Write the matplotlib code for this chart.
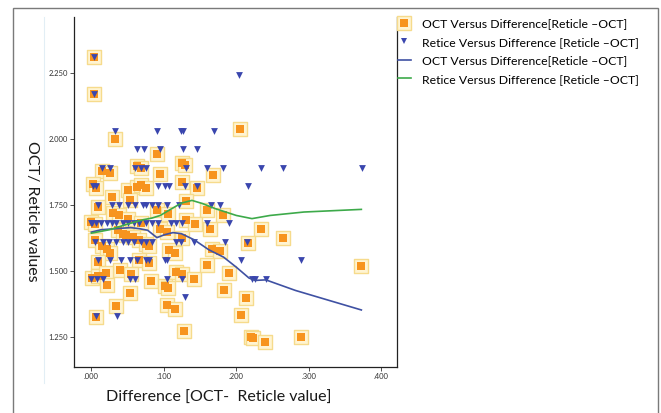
import matplotlib
matplotlib.use("Agg")
import matplotlib.pyplot as plt
from matplotlib.lines import Line2D
from matplotlib.patches import Rectangle
import numpy as np

plt.rcParams['font.family'] = ['Lato', 'DejaVu Sans']

# OCT values (orange squares) vs difference
oct_x = [0.003, 0.003, 0.205, 0.033, 0.091, 0.125, 0.129, 0.015, 0.025, 0.063,
         0.069, 0.095, 0.168, 0.002, 0.006, 0.125, 0.146, 0.051, 0.063, 0.068,
         0.076, 0.028, 0.053, 0.009, 0.130, 0.090, 0.030, 0.038, 0.106, 0.160,
         0.181, 0.000, 0.005, 0.051, 0.069, 0.037, 0.043, 0.048, 0.057, 0.066,
         0.075, 0.080, 0.094, 0.104, 0.131, 0.143, 0.163, 0.234, 0.265, 0.216,
         0.125, 0.005, 0.015, 0.022, 0.026, 0.107, 0.115, 0.167, 0.177, 0.009,
         0.066, 0.079, 0.040, 0.054, 0.117, 0.125, 0.141, 0.190, 0.159, 0.372,
         0.001, 0.009, 0.020, 0.022, 0.082, 0.102, 0.106, 0.053, 0.183, 0.213,
         0.034, 0.104, 0.115, 0.006, 0.207, 0.128, 0.220, 0.223, 0.240, 0.289]
oct_y = [2.308, 2.168, 2.035, 1.997, 1.941, 1.906, 1.901, 1.877, 1.868, 1.897,
         1.887, 1.865, 1.861, 1.827, 1.813, 1.836, 1.813, 1.804, 1.817, 1.823,
         1.813, 1.779, 1.766, 1.741, 1.763, 1.731, 1.720, 1.712, 1.716, 1.731,
         1.710, 1.684, 1.678, 1.697, 1.680, 1.653, 1.640, 1.634, 1.627, 1.615,
         1.602, 1.592, 1.658, 1.646, 1.691, 1.678, 1.658, 1.658, 1.625, 1.604,
         1.625, 1.617, 1.592, 1.583, 1.568, 1.577, 1.566, 1.583, 1.574, 1.532,
         1.541, 1.528, 1.503, 1.488, 1.494, 1.488, 1.469, 1.490, 1.522, 1.517,
         1.473, 1.478, 1.490, 1.446, 1.459, 1.441, 1.435, 1.416, 1.428, 1.397,
         1.365, 1.368, 1.355, 1.323, 1.333, 1.270, 1.247, 1.245, 1.230, 1.250]

# Reticle values (blue triangles), grouped by reticle level
ret_levels = {
    2.31: [0.003],
    2.24: [0.204],
    2.17: [0.003],
    2.03: [0.032, 0.091, 0.123, 0.127, 0.169],
    1.96: [0.063, 0.073, 0.094, 0.126, 0.146],
    1.89: [0.015, 0.025, 0.060, 0.069, 0.076, 0.130, 0.160, 0.181, 0.234, 0.265, 0.373],
    1.82: [0.002, 0.006, 0.092, 0.101, 0.107, 0.129, 0.146, 0.216],
    1.75: [0.009, 0.028, 0.038, 0.051, 0.060, 0.071, 0.076, 0.083, 0.092, 0.104,
           0.121, 0.165, 0.177],
    1.68: [0.000, 0.001, 0.006, 0.013, 0.022, 0.028, 0.034, 0.043, 0.051, 0.059,
           0.066, 0.075, 0.083, 0.092, 0.110, 0.117, 0.125, 0.159, 0.190],
    1.61: [0.005, 0.016, 0.024, 0.034, 0.043, 0.051, 0.059, 0.068, 0.075, 0.083,
           0.117, 0.124, 0.142, 0.184, 0.215],
    1.54: [0.009, 0.026, 0.041, 0.053, 0.063, 0.075, 0.080, 0.101, 0.104, 0.207, 0.289],
    1.47: [0.000, 0.008, 0.016, 0.053, 0.060, 0.104, 0.125, 0.222, 0.226, 0.241],
    1.40: [0.129],
    1.33: [0.006, 0.035],
}
ret_x = [x for lvl, xs in ret_levels.items() for x in xs]
ret_y = [lvl for lvl, xs in ret_levels.items() for x in xs]

# fit lines
oct_fit_x = [0.000, 0.0134, 0.0338, 0.0542, 0.0659, 0.0776, 0.0904, 0.1009, 0.1125, 0.1242,
             0.1417, 0.1621, 0.1825, 0.2000, 0.2175, 0.2262, 0.2408, 0.2816, 0.3283, 0.3726]
oct_fit_y = [1.646, 1.655, 1.659, 1.663, 1.659, 1.653, 1.625, 1.636, 1.644, 1.640,
             1.617, 1.579, 1.551, 1.513, 1.472, 1.463, 1.465, 1.425, 1.387, 1.351]
ret_fit_x = [0.000, 0.0251, 0.0484, 0.0717, 0.0834, 0.0950, 0.1067, 0.1242, 0.1388, 0.1534,
             0.1708, 0.2000, 0.2216, 0.2466, 0.2933, 0.3726]
ret_fit_y = [1.642, 1.655, 1.675, 1.693, 1.699, 1.709, 1.728, 1.756, 1.766, 1.754,
             1.735, 1.709, 1.697, 1.709, 1.722, 1.732]

x_ticks = [0.0, 0.1, 0.2, 0.3, 0.4]
x_ticklabels = ['.000', '.100', '.200', '.300', '.400']
y_ticks = [1.25, 1.5, 1.75, 2.0, 2.25]
y_ticklabels = ['1.250', '1.500', '1.750', '2.000', '2.250']

orange = '#F7941E'
halo_face = '#FFF4D2'
halo_edge = '#F6DB8C'
blue_pt = '#3A46AE'
blue_ln = '#3F51A3'
green_ln = '#3DAA4A'

fig = plt.figure(figsize=(6.61, 4.13), dpi=100)
ax = fig.add_axes([0.112, 0.1114, 0.4886, 0.8476])

ax.scatter(oct_x, oct_y, marker='s', s=95, facecolor=halo_face, edgecolor=halo_edge,
           linewidths=1.0, zorder=2)
ax.scatter(oct_x, oct_y, marker='s', s=28, color=orange, linewidths=0, zorder=3)
ax.scatter(ret_x, ret_y, marker='v', s=24, color=blue_pt, linewidths=0, zorder=4)
ax.plot(oct_fit_x, oct_fit_y, color=blue_ln, lw=1.2, zorder=5)
ax.plot(ret_fit_x, ret_fit_y, color=green_ln, lw=1.2, zorder=5)

ax.set_xlim(-0.024, 0.4218)
ax.set_ylim(1.135, 2.461)
ax.set_xticks(x_ticks)
ax.set_xticklabels(x_ticklabels)
ax.set_yticks(y_ticks)
ax.set_yticklabels(y_ticklabels)
ax.tick_params(labelsize=5.5, length=3, width=0.6, pad=1.5, colors='#333333')
ax.spines['top'].set_visible(False)
for s in ['left', 'bottom', 'right']:
    ax.spines[s].set_linewidth(0.9)
    ax.spines[s].set_color('#222222')

ax.set_xlabel('Difference [OCT-  Reticle value]', fontsize=11.5, color='#1a1a1a')
ax.xaxis.set_label_coords(0.449, -0.068)
fig.text(32 / 661, 1 - 211 / 413, 'OCT/ Reticle values', fontsize=11.5, rotation=270,
         ha='center', va='center', color='#1a1a1a')

# legend
h_oct = (Line2D([], [], marker='s', ls='', ms=9.5, mfc=halo_face, mec=halo_edge, mew=1.0),
         Line2D([], [], marker='s', ls='', ms=5.2, mfc=orange, mec=orange, mew=0))
h_ret = Line2D([], [], marker='v', ls='', ms=4.5, color=blue_pt, mew=0)
h_oct_ln = Line2D([], [], color=blue_ln, lw=1.2)
h_ret_ln = Line2D([], [], color=green_ln, lw=1.2)
labels = ['OCT Versus Difference[Reticle \u2013OCT]',
          'Retice Versus Difference [Reticle \u2013OCT]',
          'OCT Versus Difference[Reticle \u2013OCT]',
          'Retice Versus Difference [Reticle \u2013OCT]']
fig.legend([h_oct, h_ret, h_oct_ln, h_ret_ln], labels, loc='upper left',
           bbox_to_anchor=(0.585, 0.983), frameon=False, fontsize=8.8,
           handlelength=1.1, handletextpad=0.9, labelspacing=0.62)

# outer frame and faint guide line
fig.add_artist(Rectangle((13 / 661, -0.05), 645 / 661, (413 - 8) / 413 + 0.05,
                         transform=fig.transFigure, fill=False, ec='#7a7a7a', lw=1.0))
fig.add_artist(Line2D([44 / 661, 44 / 661], [(413 - 383) / 413, (413 - 17) / 413],
                      transform=fig.transFigure, color='#e2eef5', lw=0.8))

fig.savefig('out.png', dpi=100)
